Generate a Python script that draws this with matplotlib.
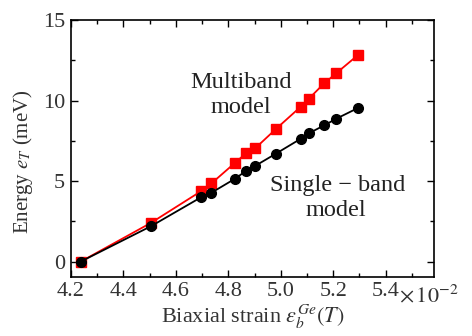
import matplotlib
matplotlib.use("Agg")
import matplotlib.pyplot as plt
import matplotlib.transforms as mtransforms

plt.rcParams['font.family'] = ['Liberation Serif', 'DejaVu Serif']
plt.rcParams['mathtext.fontset'] = 'stix'

# strain in units of 1e-2
strain = [4.238, 4.507, 4.698, 4.736, 4.826, 4.869, 4.902, 4.981, 5.076, 5.107, 5.165, 5.212, 5.294]
multiband = [0.0, 2.42, 4.39, 4.86, 6.14, 6.75, 7.03, 8.23, 9.62, 10.12, 11.07, 11.71, 12.83]
single_band = [0.0, 2.21, 4.01, 4.28, 5.15, 5.65, 5.94, 6.70, 7.63, 7.97, 8.46, 8.88, 9.54]

xticks = [4.2, 4.4, 4.6, 4.8, 5.0, 5.2, 5.4]
xticklabels = ['4.2', '4.4', '4.6', '4.8', '5.0', '5.2', '5.4']
yticks = [0, 5, 10, 15]

fig = plt.figure(figsize=(4.72, 3.36), dpi=100)
ax = fig.add_axes([0.150, 0.176, 0.769, 0.764])

ax.plot(strain, multiband, '-s', color='#ff0000', lw=1.3, markersize=6.5)
ax.plot(strain, single_band, '-o', color='black', lw=1.3, markersize=7)

ax.set_xlim(4.2, 5.583)
ax.set_ylim(-0.95, 15)
ax.set_xticks(xticks)
ax.set_xticklabels(xticklabels)
ax.set_xticks([4.3, 4.5, 4.7, 4.9, 5.1, 5.3, 5.5], minor=True)
ax.set_yticks(yticks)
ax.set_yticks([2.5, 7.5, 12.5], minor=True)
ax.tick_params(which='both', direction='in', top=True, right=True, labelsize=16, pad=4,
               labelcolor='#333333')
ax.tick_params(which='major', length=5, width=1)
ax.tick_params(which='minor', length=3, width=1)
for s in ax.spines.values():
    s.set_linewidth(1.2)

trans = mtransforms.blended_transform_factory(ax.transData, ax.transAxes)
ax.text(5.452, -0.03, r'$\times\,\mathrm{10}^{-2}$', transform=trans, ha='left', va='top',
        fontsize=16, color='#333333')

ax.text(4.657, 11.15, 'Multiband', ha='left', va='center', fontsize=17.5, color='#222222')
ax.text(4.733, 9.6, 'model', ha='left', va='center', fontsize=17.5, color='#222222')
ax.text(4.958, 4.7, 'Single \u2212 band', ha='left', va='center', fontsize=17.5, color='#222222')
ax.text(5.095, 3.2, 'model', ha='left', va='center', fontsize=17.5, color='#222222')

ax.set_xlabel(r'Biaxial strain $\varepsilon_b^{Ge}(T)$', fontsize=16, color='#333333', labelpad=1)
ax.set_ylabel(r'Energy $e_T$ (meV)', fontsize=15, color='#333333')
ax.yaxis.set_label_coords(-0.10, 0.45)

fig.savefig('out.png', dpi=100)
